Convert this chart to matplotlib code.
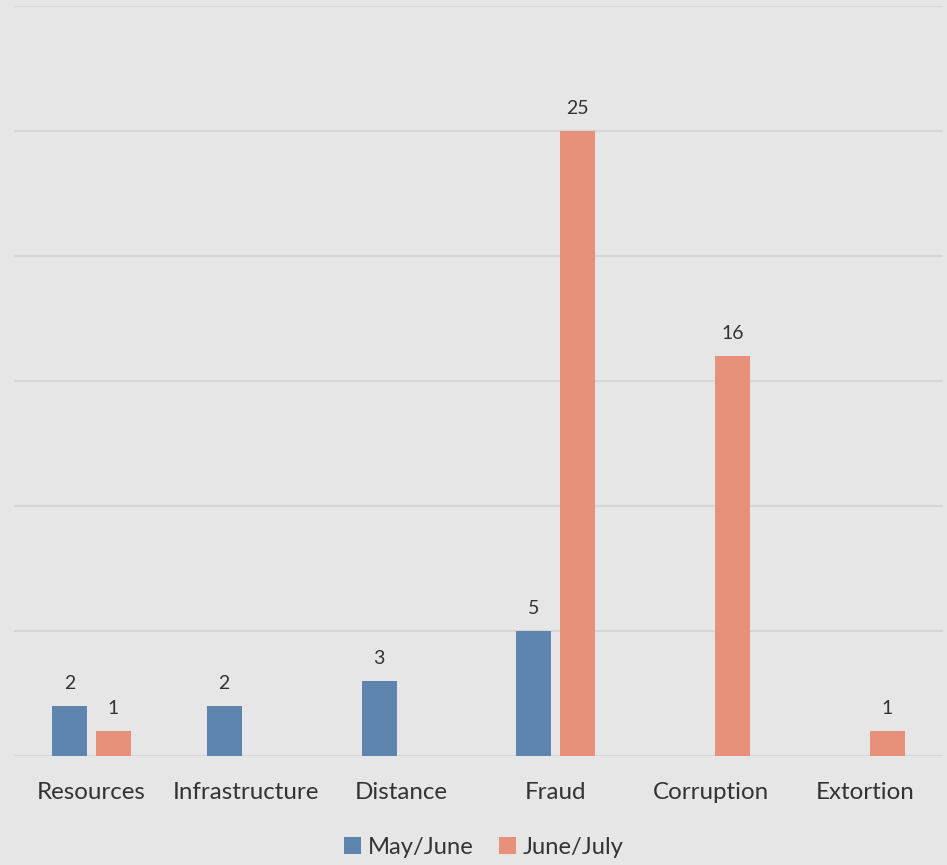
import matplotlib
matplotlib.use("Agg")
import matplotlib.pyplot as plt
import numpy as np

categories = ["Resources", "Infrastructure", "Distance", "Fraud", "Corruption", "Extortion"]
may_june = [2, 2, 3, 5, None, None]
june_july = [1, None, None, 25, 16, 1]
series_names = ["May/June", "June/July"]

BG = "#e6e6e6"
GRID = "#d6d6d6"
BLUE = "#5d84ad"
ORANGE = "#e8917a"
TEXT = "#333333"

plt.rcParams["font.family"] = ["Lato", "DejaVu Sans"]

fig = plt.figure(figsize=(9.47, 8.65), dpi=100, facecolor=BG)
ax = fig.add_axes([14 / 947, 1 - 756 / 865, 929 / 947, 750 / 865], facecolor=BG)

x = np.arange(len(categories))
width = 0.226
offset = 0.142

for vals, sign, color, name in [(may_june, -1, BLUE, series_names[0]),
                                (june_july, 1, ORANGE, series_names[1])]:
    xs = [xi + sign * offset for xi, v in zip(x, vals) if v is not None]
    hs = [v for v in vals if v is not None]
    bars = ax.bar(xs, hs, width, color=color, label=name, zorder=3)
    for b, v in zip(bars, hs):
        ax.annotate(str(v), (b.get_x() + b.get_width() / 2, v),
                    xytext=(0, 10), textcoords="offset points",
                    ha="center", va="bottom", fontsize=14, color=TEXT)

ax.set_xlim(-0.5, len(categories) - 0.5)
ax.set_ylim(0, 30)
ax.set_yticks(np.arange(0, 31, 5))
ax.yaxis.grid(True, color=GRID, linewidth=1.5, zorder=0)
ax.tick_params(axis="y", left=False, labelleft=False)
ax.set_xticks(x)
ax.set_xticklabels(categories, fontsize=17.4, color=TEXT)
ax.tick_params(axis="x", length=0, pad=19)
for s in ax.spines.values():
    s.set_visible(False)

fig.legend(loc="center", bbox_to_anchor=(484 / 947, 1 - 847 / 865), ncol=2,
           frameon=False, fontsize=17.1, labelcolor=TEXT, handlelength=0.7,
           handleheight=0.7, handletextpad=0.3, columnspacing=1.05)

fig.savefig("out.png", dpi=100, facecolor=BG)
